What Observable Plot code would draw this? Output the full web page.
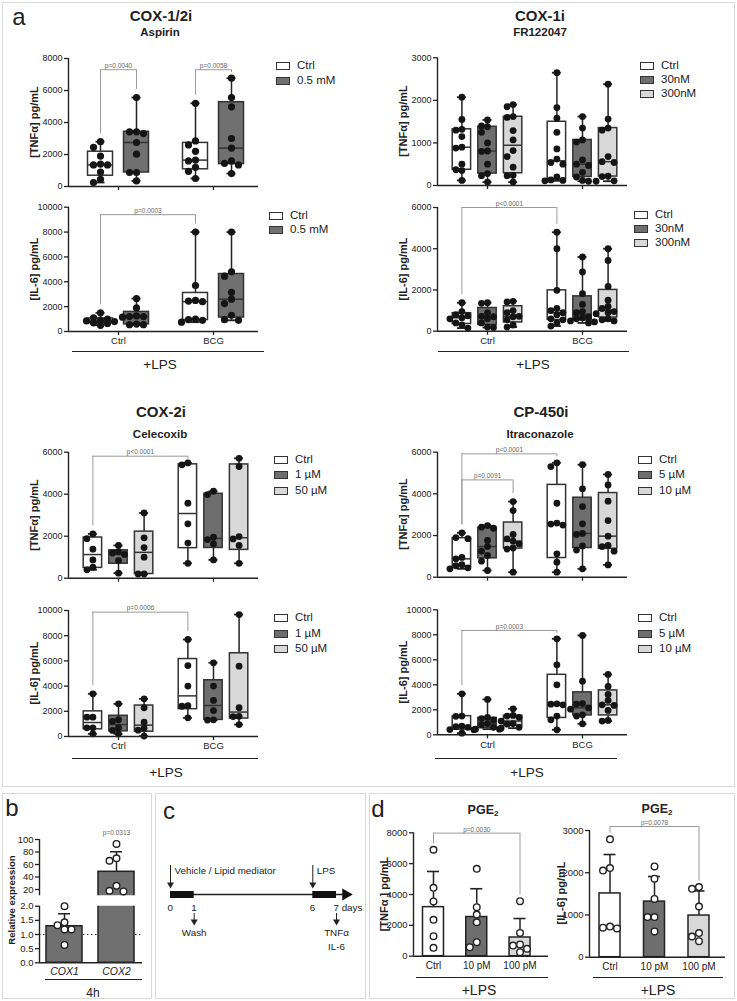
<!DOCTYPE html>
<html>
<head>
<meta charset="utf-8">
<script src="https://cdn.jsdelivr.net/npm/d3@7"></script>
<script src="https://cdn.jsdelivr.net/npm/@observablehq/plot@0.6"></script>
<style>
  html,body{margin:0;padding:0;background:#fff;}
  #fig{position:relative;width:737px;height:1001px;overflow:hidden;background:#fff;font-family:Arial,"Liberation Sans",Helvetica,sans-serif;color:#222;}
  #fig svg{position:absolute;overflow:visible;}
  .panel{position:absolute;border:1px solid #d9d9d9;box-sizing:border-box;}
  .t{position:absolute;white-space:nowrap;line-height:1;}
  .sw{position:absolute;width:14px;height:8px;border:1.3px solid #333;box-sizing:border-box;}
</style>
</head>
<body>
<div id="fig"></div>
<script>
// ================= DATA =================
const groups = ["Ctrl", "BCG"];

// COX-1/2i Aspirin
const aspirinTreatments = ["Ctrl", "0.5 mM"];
const aspirinTNF = [
  ["Ctrl", "Ctrl",   [2800, 2450, 1900, 1400, 1350, 1350, 900, 450, 250]],
  ["Ctrl", "0.5 mM", [5560, 3420, 3420, 3310, 2750, 2020, 875, 875, 350]],
  ["BCG",  "Ctrl",   [5200, 2850, 2600, 2200, 1650, 1600, 1200, 950, 500]],
  ["BCG",  "0.5 mM", [6770, 5560, 4980, 3000, 2400, 1600, 1450, 1350, 810]]
];
const aspirinIL6 = [
  ["Ctrl", "Ctrl",   [1500, 1100, 1000, 900, 850, 800, 700, 650, 500]],
  ["Ctrl", "0.5 mM", [2650, 1900, 1250, 1200, 1200, 1150, 600, 550, 550]],
  ["BCG",  "Ctrl",   [8000, 3700, 2500, 2450, 2400, 1000, 950, 900, 750]],
  ["BCG",  "0.5 mM", [8000, 4800, 4450, 3150, 2600, 2250, 1300, 950, 900]]
];
const aspirinTNFp = [
  {from: ["Ctrl", "Ctrl"], to: ["Ctrl", "0.5 mM"], level: 7300, p: "p=0.0040"},
  {from: ["BCG", "Ctrl"], to: ["BCG", "0.5 mM"], level: 7300, p: "p=0.0058"}
];
const aspirinIL6p = [{from: ["Ctrl", "Ctrl"], to: ["BCG", "Ctrl"], level: 9400, p: "p=0.0003"}];

// COX-1i FR122047
const frTreatments = ["Ctrl", "30nM", "300nM"];
const frTNF = [
  ["Ctrl", "Ctrl",  [2075, 1550, 1320, 1300, 1150, 900, 880, 500, 370, 350, 120]],
  ["Ctrl", "30nM",  [1540, 1400, 1380, 1250, 1000, 810, 800, 500, 280, 230, 80]],
  ["Ctrl", "300nM", [1900, 1850, 1620, 1600, 1290, 1070, 820, 680, 430, 240, 230, 80]],
  ["BCG",  "Ctrl",  [2650, 1830, 1580, 1250, 860, 620, 540, 500, 200, 130, 120, 110]],
  ["BCG",  "30nM",  [1620, 1350, 1070, 1020, 600, 500, 470, 310, 200, 120, 100]],
  ["BCG",  "300nM", [2380, 1560, 1350, 1300, 680, 560, 540, 220, 210, 110, 100]]
];
const frIL6 = [
  ["Ctrl", "Ctrl",  [1380, 950, 800, 750, 650, 600, 400, 300, 150]],
  ["Ctrl", "30nM",  [1380, 1350, 900, 720, 700, 600, 400, 200, 180]],
  ["Ctrl", "300nM", [1450, 1420, 1000, 900, 720, 700, 550, 300, 200]],
  ["BCG",  "Ctrl",  [4800, 4000, 1980, 1100, 1000, 900, 800, 600, 550, 400, 250]],
  ["BCG",  "30nM",  [3600, 2870, 1820, 1300, 950, 900, 700, 650, 600, 500, 450, 400]],
  ["BCG",  "300nM", [4000, 3430, 2170, 1500, 1200, 1100, 950, 900, 850, 600, 550, 500]]
];
const frIL6p = [{from: ["Ctrl", "Ctrl"], to: ["BCG", "Ctrl"], level: 6000, p: "p<0.0001"}];

// COX-2i Celecoxib
const celTreatments = ["Ctrl", "1 µM", "50 µM"];
const celTNF = [
  ["Ctrl", "Ctrl",  [2110, 1880, 1380, 870, 520, 400]],
  ["Ctrl", "1 µM",  [1560, 1250, 1200, 1130, 840, 240]],
  ["Ctrl", "50 µM", [3110, 1920, 1460, 1000, 200, 200]],
  ["BCG",  "Ctrl",  [5490, 5400, 3570, 2590, 1670, 710]],
  ["BCG",  "1 µM",  [4140, 3980, 1950, 1840, 1630, 870]],
  ["BCG",  "50 µM", [5710, 5320, 1980, 1870, 1560, 710]]
];
const celIL6 = [
  ["Ctrl", "Ctrl",  [3390, 1530, 1530, 690, 690, 210]],
  ["Ctrl", "1 µM",  [2590, 1330, 1200, 700, 480, 210]],
  ["Ctrl", "50 µM", [2990, 2280, 1140, 660, 500, 30]],
  ["BCG",  "Ctrl",  [7700, 5630, 4000, 2450, 2400, 1480]],
  ["BCG",  "1 µM",  [5850, 4000, 2860, 2060, 1320, 1300]],
  ["BCG",  "50 µM", [9680, 5580, 2280, 1600, 1580, 950]]
];
const celTNFp = [{from: ["Ctrl", "Ctrl"], to: ["BCG", "Ctrl"], level: 5810, p: "p<0.0001"}];
const celIL6p = [{from: ["Ctrl", "Ctrl"], to: ["BCG", "Ctrl"], level: 9870, p: "p=0.0006"}];

// CP-450i Itraconazole
const itraTreatments = ["Ctrl", "5 µM", "10 µM"];
const itraTNF = [
  ["Ctrl", "Ctrl",  [2130, 1900, 1850, 950, 880, 600, 550, 450, 400]],
  ["Ctrl", "5 µM",  [2480, 2400, 2350, 1760, 1470, 1250, 1040, 770, 320]],
  ["Ctrl", "10 µM", [3630, 3200, 2050, 1840, 1730, 1600, 1400, 1350, 240]],
  ["BCG",  "Ctrl",  [5490, 5310, 3550, 2600, 2550, 2500, 1120, 720, 240]],
  ["BCG",  "5 µM",  [5400, 4240, 3390, 2560, 2100, 2050, 1500, 1300, 400]],
  ["BCG",  "10 µM", [4930, 4430, 3650, 2720, 1970, 1520, 1470, 1250, 590]]
];
const itraIL6 = [
  ["Ctrl", "Ctrl",  [3280, 1500, 1480, 700, 650, 600, 420, 400, 130]],
  ["Ctrl", "5 µM",  [2830, 1400, 1300, 1200, 900, 800, 600, 450, 450]],
  ["Ctrl", "10 µM", [2080, 1550, 1500, 1400, 1100, 900, 850, 600, 530]],
  ["BCG",  "Ctrl",  [7680, 5600, 4000, 2480, 2450, 2400, 1500, 1200, 400]],
  ["BCG",  "5 µM",  [7950, 4290, 2500, 2450, 2150, 2050, 1600, 1500, 880]],
  ["BCG",  "10 µM", [4830, 3870, 3230, 2750, 2400, 2350, 1950, 1150, 1100]]
];
const itraTNFp = [
  {from: ["Ctrl", "Ctrl"], to: ["BCG", "Ctrl"], level: 5920, p: "p<0.0001"},
  {from: ["Ctrl", "Ctrl"], to: ["Ctrl", "10 µM"], level: 4670, p: "p=0.0091"}
];
const itraIL6p = [{from: ["Ctrl", "Ctrl"], to: ["BCG", "Ctrl"], level: 8350, p: "p=0.0003"}];

// Panel b: relative expression, 4h
const genes = ["COX1", "COX2"];
const cox1Expr = [2.0, 1.43, 1.33, 1.18, 1.18, 0.63];
const cox2Expr = [93, 70, 66, 26, 17, 18];
const bTicksUpper = [20, 40, 60, 80, 100];
const bTicksLower = [0, 0.5, 1.0, 1.5, 2.0];

// Panel c: protocol timeline
const timelineTicks = [[0, "0"], [1, "1"], [6, "6"], [7, "7 days"]];
const treatmentPhases = [[0, 1], [6, 7]];
const addEvents = [[0, "Vehicle / Lipid mediator"], [6, "LPS"]];
const readouts = [[1, ["Wash"]], [7, ["TNFα", "IL-6"]]];

// Panel d: PGE2
const pgeTreatments = ["Ctrl", "10 pM", "100 pM"];
const pgeTNF = [
  ["Ctrl",   [6900, 4430, 3550, 2360, 1300, 540]],
  ["10 pM",  [5665, 3180, 2700, 2200, 908, 584]],
  ["100 pM", [3570, 1510, 760, 690, 480, 260]]
];
const pgeIL6 = [
  ["Ctrl",   [2790, 2110, 2050, 726, 680, 700]],
  ["10 pM",  [2150, 1860, 1380, 950, 950, 610]],
  ["100 pM", [1660, 1620, 1200, 570, 490, 380]]
];
const pgeTNFp = [{from: "Ctrl", to: "100 pM", level: 7980, p: "p=0.0030"}];
const pgeIL6p = [{from: "Ctrl", to: "100 pM", level: 3095, p: "p=0.0078"}];

// ================= HELPERS =================
const FONT = 'Arial, "Liberation Sans", Helvetica, sans-serif';
const INK = "#222";
const fig = document.getElementById("fig");
const fills2 = ["#ffffff", "#707070"];
const fills3 = ["#ffffff", "#6e6e6e", "#d8d8d8"];
const plotStyle = {fontFamily: FONT, fontSize: "9px", color: INK, background: "transparent", overflow: "visible"};

function put(node, left, top) {
  node.style.position = "absolute";
  node.style.left = left + "px";
  node.style.top = top + "px";
  fig.appendChild(node);
  return node;
}
function text(x, y, html, o = {}) {
  const d = document.createElement("div");
  d.className = "t";
  d.innerHTML = html;
  const anchor = o.anchor ?? "middle";
  const tx = anchor === "middle" ? "-50%" : anchor === "end" ? "-100%" : "0";
  d.style.fontSize = (o.size ?? 11) + "px";
  d.style.fontWeight = o.weight ?? "normal";
  if (o.italic) d.style.fontStyle = "italic";
  d.style.color = o.color ?? INK;
  d.style.transform = `translate(${tx},-50%)` + (o.rotate ? ` rotate(${o.rotate}deg)` : "");
  return put(d, x, y);
}
function hline(x1, x2, y, w = 1.5) {
  const d = document.createElement("div");
  d.style.cssText = `width:${x2 - x1}px;height:0;border-top:${w}px solid ${INK};`;
  return put(d, x1, y - w / 2);
}
function panel(x, y, w, h) {
  const d = document.createElement("div");
  d.className = "panel";
  d.style.width = w + "px";
  d.style.height = h + "px";
  return put(d, x, y);
}
function legend(x, y, labels, fills, step) {
  labels.forEach((l, i) => {
    const s = document.createElement("div");
    s.className = "sw";
    s.style.background = fills[i];
    put(s, x, y + i * step - 4);
    text(x + 21, y + i * step, l, {anchor: "start", size: 11.5});
  });
}
function quartile(sorted, p) {
  const n = sorted.length, pos = (n + 1) * p;
  if (pos <= 1) return sorted[0];
  if (pos >= n) return sorted[n - 1];
  const lo = Math.floor(pos), f = pos - lo;
  return sorted[lo - 1] + f * (sorted[lo] - sorted[lo - 1]);
}
function summary(vals) {
  const s = [...vals].sort((a, b) => a - b);
  return {min: s[0], q1: quartile(s, 0.25), median: quartile(s, 0.5), q3: quartile(s, 0.75), max: s[s.length - 1]};
}
// horizontal spreading of overlapping dots (pixel offsets)
function spread(vals, yPx, stepPx, minD, maxK = 2) {
  const order = vals.map((_, i) => i).sort((a, b) => vals[b] - vals[a]);
  const placed = [], off = vals.map(() => 0);
  const ks = [0, -1, 1, -2, 2, -3, 3].filter(k => Math.abs(k) <= maxK);
  for (const i of order) {
    const py = yPx(vals[i]);
    let best = 0, bestD = -1;
    for (const k of ks) {
      const ox = k * stepPx;
      const d = placed.length ? Math.min(...placed.map(p => Math.hypot(p.x - ox, p.y - py))) : Infinity;
      if (d >= minD) { best = ox; break; }
      if (d > bestD) { bestD = d; best = ox; }
    }
    placed.push({x: best, y: py});
    off[i] = best;
  }
  return off;
}

// ================= BOX CHART (panel a) =================
function boxChart(o) {
  const {rows, treatments, fills} = o;
  const n = treatments.length, step = o.step;
  const c0 = (n - 1) / 2, G = 95 / step;
  const dom = [c0 - 50 / step, c0 + G + 45 / step];
  const pos = (g, t) => groups.indexOf(g) * G + treatments.indexOf(t);
  const plotH = o.H - o.mt - o.mb;
  const yPx = v => o.mt + (1 - v / o.yMax) * plotH;
  const yVal = px => o.yMax * (1 - (px - o.mt) / plotH);
  const stats = rows.map(([g, t, vals]) => ({g, t, x: pos(g, t), ...summary(vals)}));
  const pts = rows.flatMap(([g, t, vals]) => {
    const off = spread(vals, yPx, o.dotStep, o.minD, 2);
    return vals.map((v, i) => ({g, t, v, x: pos(g, t) + off[i] / step}));
  });
  const bw = o.boxHalf / step, cw = 4.5 / step;
  const maxOf = (g, t) => stats.find(s => s.g === g && s.t === t).max;
  const legEnd = (b, g, t) => yVal(Math.max(yPx(b.level) + 3, yPx(maxOf(g, t)) - 8));
  const br = (o.brackets || []).map(b => ({...b, xa: pos(...b.from), xb: pos(...b.to),
    ea: legEnd(b, ...b.from), eb: legEnd(b, ...b.to)}));
  const legs = br.flatMap(b => [{x: b.xa, y1: b.level, y2: b.ea}, {x: b.xb, y1: b.level, y2: b.eb}]);
  const svg = Plot.plot({
    width: 68 + 190, height: o.H,
    marginLeft: 68, marginRight: 0, marginTop: o.mt, marginBottom: o.mb,
    style: plotStyle,
    x: {domain: dom},
    y: {domain: [0, o.yMax]},
    color: {domain: treatments, range: fills},
    marks: [
      Plot.ruleX(legs, {x: "x", y1: "y1", y2: "y2", stroke: "#9a9a9a", strokeWidth: 1}),
      Plot.ruleY(br, {x1: "xa", x2: "xb", y: "level", stroke: "#9a9a9a", strokeWidth: 1}),
      Plot.text(br, {x: d => (d.xa + d.xb) / 2, y: "level", text: "p", dy: -4, fontSize: 6.5, fill: "#666"}),
      Plot.ruleX(stats, {x: "x", y1: "min", y2: "max", stroke: INK, strokeWidth: 1.5}),
      Plot.ruleY(stats, {x1: d => d.x - cw, x2: d => d.x + cw, y: "max", stroke: INK, strokeWidth: 1.8}),
      Plot.ruleY(stats, {x1: d => d.x - cw, x2: d => d.x + cw, y: "min", stroke: INK, strokeWidth: 1.8}),
      Plot.rect(stats, {x1: d => d.x - bw, x2: d => d.x + bw, y1: "q1", y2: "q3", fill: "t", stroke: "#333", strokeWidth: 1.5}),
      Plot.ruleY(stats, {x1: d => d.x - bw, x2: d => d.x + bw, y: "median", stroke: "#333", strokeWidth: 1.5}),
      Plot.dot(pts, {x: "x", y: "v", r: o.r, fill: "#151515", stroke: "none"}),
      Plot.ruleY([0], {stroke: INK, strokeWidth: 1.4}),
      Plot.ruleX([dom[0]], {stroke: INK, strokeWidth: 1.4}),
      Plot.axisY({ticks: o.ticks, tickSize: 4, tickPadding: 2, label: null, tickFormat: d => String(d), fontSize: 9, strokeWidth: 1.3}),
      Plot.axisX({ticks: groups.map((g, i) => c0 + i * G), tickSize: 4, tickPadding: 2, label: null, fontSize: 9.5, strokeWidth: 1.3,
        tickFormat: o.groupLabels ? (d => groups[Math.round((d - c0) / G)]) : (() => "")})
    ]
  });
  return put(svg, o.left, o.top);
}

// ================= BAR CHART (panel d) =================
function barChart(o) {
  const {rows, treatments, fills} = o;
  const n = treatments.length, step = o.step;
  const dom = [-o.lead / step, n - 1 + o.tail / step];
  const plotH = o.H - o.mt - o.mb;
  const yPx = v => o.mt + (1 - v / o.yMax) * plotH;
  const yVal = px => o.yMax * (1 - (px - o.mt) / plotH);
  const stats = rows.map(([t, v]) => {
    const mean = d3.mean(v), sd = d3.deviation(v);
    return {t, i: treatments.indexOf(t), mean, sd, top: Math.max(d3.max(v), mean + sd)};
  });
  const pts = rows.flatMap(([t, v]) => {
    const off = spread(v, yPx, 7, 6.5, 2), i = treatments.indexOf(t);
    return v.map((val, j) => ({t, v: val, x: i + off[j] / step}));
  });
  const half = 10.5 / step, cap = 6 / step;
  const topOf = t => stats.find(s => s.t === t).top;
  const end = (b, t) => yVal(Math.max(yPx(b.level) + 3, yPx(topOf(t)) - 6));
  const br = o.brackets.map(b => ({...b, xa: treatments.indexOf(b.from), xb: treatments.indexOf(b.to), ea: end(b, b.from), eb: end(b, b.to)}));
  const legs = br.flatMap(b => [{x: b.xa, y1: b.level, y2: b.ea}, {x: b.xb, y1: b.level, y2: b.eb}]);
  const svg = Plot.plot({
    width: o.width, height: o.H,
    marginLeft: o.ml, marginRight: 0, marginTop: o.mt, marginBottom: o.mb,
    style: plotStyle,
    x: {domain: dom},
    y: {domain: [0, o.yMax]},
    color: {domain: treatments, range: fills},
    marks: [
      Plot.ruleX(legs, {x: "x", y1: "y1", y2: "y2", stroke: "#9a9a9a", strokeWidth: 1}),
      Plot.ruleY(br, {x1: "xa", x2: "xb", y: "level", stroke: "#9a9a9a", strokeWidth: 1}),
      Plot.text(br, {x: d => (d.xa + d.xb) / 2, y: "level", text: "p", dy: -3.5, fontSize: 6.5, fill: "#666"}),
      Plot.ruleX(stats, {x: "i", y1: "mean", y2: d => d.mean + d.sd, stroke: INK, strokeWidth: 1.5}),
      Plot.ruleY(stats, {x1: d => d.i - cap, x2: d => d.i + cap, y: d => d.mean + d.sd, stroke: INK, strokeWidth: 1.6}),
      Plot.rect(stats, {x1: d => d.i - half, x2: d => d.i + half, y1: 0, y2: "mean", fill: "t", stroke: INK, strokeWidth: 1.5}),
      Plot.dot(pts, {x: "x", y: "v", r: 3.3, fill: "#fff", stroke: INK, strokeWidth: 1.4}),
      Plot.ruleY([0], {stroke: INK, strokeWidth: 1.4}),
      Plot.ruleX([dom[0]], {stroke: INK, strokeWidth: 1.4}),
      Plot.axisY({ticks: o.ticks, tickSize: 4, tickPadding: 2, label: null, tickFormat: d => String(d), fontSize: 9.5, strokeWidth: 1.3}),
      Plot.axisX({ticks: d3.range(n), tickSize: 0, tickPadding: 6, label: null, fontSize: 10, tickFormat: i => treatments[i]})
    ]
  });
  return put(svg, o.left, o.top);
}

// ================= PANEL FRAMES =================
panel(2, 2, 733, 785);
panel(2, 793, 150, 206);
panel(155, 793, 211, 206);
panel(369, 793, 366, 206);

// ================= PANEL a =================
text(19, 17, "a", {size: 24});
const cfg2 = {treatments: aspirinTreatments, fills: fills2, step: 36, boxHalf: 12.5, r: 3.6, dotStep: 7, minD: 6.5};
const cfg3 = {fills: fills3, step: 25.6, boxHalf: 9.2, r: 3.4, dotStep: 6, minD: 6};

// top-left: Aspirin
text(161, 15, "COX-1/2i", {size: 15, weight: "bold"});
text(160, 33, "Aspirin", {size: 11.5, weight: "bold"});
boxChart({...cfg2, rows: aspirinTNF, left: 0, top: 40, mt: 18, mb: 8, H: 154, yMax: 8000, ticks: d3.range(0, 8001, 2000), groupLabels: false, brackets: aspirinTNFp});
boxChart({...cfg2, rows: aspirinIL6, left: 0, top: 190, mt: 16.7, mb: 20, H: 161, yMax: 10000, ticks: d3.range(0, 10001, 2000), groupLabels: true, brackets: aspirinIL6p});
text(34, 122, "[TNFα] pg/mL", {size: 11, weight: "bold", rotate: -90});
text(34, 269, "[IL-6] pg/mL", {size: 11, weight: "bold", rotate: -90});
legend(276, 66.3, aspirinTreatments, fills2, 15);
legend(269, 215.7, aspirinTreatments, fills2, 14.5);
hline(72, 264, 352);
text(160, 365, "+LPS", {size: 13.5});

// top-right: FR122047
text(540, 15, "COX-1i", {size: 15, weight: "bold"});
text(540, 33, "FR122047", {size: 11.5, weight: "bold"});
boxChart({...cfg3, treatments: frTreatments, rows: frTNF, left: 369, top: 40, mt: 17.3, mb: 8, H: 153, yMax: 3000, ticks: d3.range(0, 3001, 1000), groupLabels: false, brackets: []});
boxChart({...cfg3, treatments: frTreatments, rows: frIL6, left: 369, top: 190, mt: 17, mb: 20, H: 160.7, yMax: 6000, ticks: d3.range(0, 6001, 2000), groupLabels: true, brackets: frIL6p});
text(403, 121, "[TNFα] pg/mL", {size: 11, weight: "bold", rotate: -90});
text(403, 269, "[IL-6] pg/mL", {size: 11, weight: "bold", rotate: -90});
legend(640, 65.7, frTreatments, fills3, 14.3);
legend(634, 215, frTreatments, fills3, 14.2);
hline(438, 629, 352);
text(533, 365, "+LPS", {size: 13.5});

// bottom-left: Celecoxib
text(161, 411, "COX-2i", {size: 15, weight: "bold"});
text(160, 435, "Celecoxib", {size: 11.5, weight: "bold"});
boxChart({...cfg3, treatments: celTreatments, rows: celTNF, left: 0, top: 430, mt: 21.7, mb: 8, H: 155.7, yMax: 6000, ticks: d3.range(0, 6001, 2000), groupLabels: false, brackets: celTNFp});
boxChart({...cfg3, treatments: celTreatments, rows: celIL6, left: 0, top: 595, mt: 15, mb: 20, H: 161, yMax: 10000, ticks: d3.range(0, 10001, 2000), groupLabels: true, brackets: celIL6p});
text(34, 515, "[TNFα] pg/mL", {size: 11, weight: "bold", rotate: -90});
text(34, 673, "[IL-6] pg/mL", {size: 11, weight: "bold", rotate: -90});
legend(274, 460, celTreatments, fills3, 15.3);
legend(274, 617.7, celTreatments, fills3, 15.8);
hline(72, 258, 759);
text(166, 773, "+LPS", {size: 13.5});

// bottom-right: Itraconazole
text(541, 411, "CP-450i", {size: 15, weight: "bold"});
text(540, 435, "Itraconazole", {size: 11.5, weight: "bold"});
boxChart({...cfg3, treatments: itraTreatments, rows: itraTNF, left: 369, top: 430, mt: 21.7, mb: 8, H: 154.7, yMax: 6000, ticks: d3.range(0, 6001, 2000), groupLabels: false, brackets: itraTNFp});
boxChart({...cfg3, treatments: itraTreatments, rows: itraIL6, left: 369, top: 595, mt: 14.3, mb: 20, H: 159.3, yMax: 10000, ticks: d3.range(0, 10001, 2000), groupLabels: true, brackets: itraIL6p});
text(403, 514, "[TNFα] pg/mL", {size: 11, weight: "bold", rotate: -90});
text(403, 672, "[IL-6] pg/mL", {size: 11, weight: "bold", rotate: -90});
legend(638, 460, itraTreatments, fills3, 15.3);
legend(638, 617.7, itraTreatments, fills3, 15.8);
hline(435, 617, 759);
text(527, 773, "+LPS", {size: 13.5});

// ================= PANEL b =================
text(12, 808, "b", {size: 24});
(function () {
  const series = [["COX1", cox1Expr], ["COX2", cox2Expr]];
  const stats = series.map(([g, v], i) => ({g, i, mean: d3.mean(v), sd: d3.deviation(v), max: d3.max(v)}));
  const step = 52, dom = [-25 / step, 1 + 26 / step], half = 18 / step, cap = 6 / step;
  const make = (o) => {
    const plotH = o.H - o.mt - o.mb;
    const yPx = v => o.mt + (1 - (v - o.domain[0]) / (o.domain[1] - o.domain[0])) * plotH;
    const pts = series.flatMap(([g, v], i) => {
      const keep = v.filter(o.keep);
      const off = spread(keep, yPx, 7, 6.5, 2);
      return keep.map((val, j) => ({g, v: val, x: i + off[j] / step}));
    });
    const marks = [
      ...(o.dotted ? [Plot.ruleY([1], {stroke: "#333", strokeWidth: 1.2, strokeDasharray: "1.5,2.5"})] : []),
      Plot.rect(stats, {x1: d => d.i - half, x2: d => d.i + half, y1: 0, y2: "mean", fill: "#707070", stroke: INK, strokeWidth: 1.5, clip: true}),
      Plot.ruleX(stats, {x: "i", y1: "mean", y2: d => d.mean + d.sd, stroke: INK, strokeWidth: 1.5, clip: true}),
      Plot.ruleY(stats, {x1: d => d.i - cap, x2: d => d.i + cap, y: d => d.mean + d.sd, stroke: INK, strokeWidth: 1.6, clip: true}),
      Plot.dot(pts, {x: "x", y: "v", r: 3.3, fill: "#fff", stroke: INK, strokeWidth: 1.4}),
      Plot.ruleX([dom[0]], {stroke: INK, strokeWidth: 1.4}),
      Plot.axisY({ticks: o.ticks, tickSize: 4, tickPadding: 2, label: null, tickFormat: o.fmt, fontSize: 9.5, strokeWidth: 1.3})
    ];
    if (o.xaxis) {
      marks.push(Plot.ruleY([0], {stroke: INK, strokeWidth: 1.4}));
      marks.push(Plot.axisX({ticks: [0, 1], tickSize: 0, tickPadding: 5, label: null, fontSize: 10.5, fontStyle: "italic", tickFormat: i => genes[i]}));
    }
    if (o.pvals) {
      marks.push(Plot.text(stats.filter(d => d.g === "COX2"), {x: "i", y: "max", text: () => o.pvals, dy: -10.5, fontSize: 6.5, fill: "#666"}));
    }
    const svg = Plot.plot({
      width: 142, height: o.H, marginLeft: 39, marginRight: 0, marginTop: o.mt, marginBottom: o.mb,
      style: plotStyle,
      x: {domain: dom, axis: o.xaxis ? undefined : null},
      y: {domain: o.domain},
      marks
    });
    return put(svg, 0, o.top);
  };
  make({top: 822, mt: 17, mb: 0, H: 73.25, domain: [10, 100], ticks: bTicksUpper, fmt: d => String(d), keep: v => v >= 10, pvals: "p=0.0313"});
  make({top: 898, mt: 7.7, mb: 16, H: 80.3, domain: [0, 2], ticks: bTicksLower, fmt: d3.format(".1f"), keep: v => v <= 2, dotted: true, xaxis: true});
})();
text(12, 900, "Relative expression", {size: 9.5, weight: "bold", rotate: -90});
hline(45, 142, 980);
text(93, 993, "4h", {size: 12});

// ================= PANEL c =================
text(169, 811, "c", {size: 24});
(function () {
  const readLabels = readouts.flatMap(([day, labels]) => labels.map((l, j) => ({day, l, j})));
  const svg = Plot.plot({
    width: 211, height: 206, margin: 0,
    style: {...plotStyle, fontSize: "9.5px"},
    x: {domain: [0, 7], range: [15, 181], axis: null},
    y: {domain: [-60, 45], range: [161, 56], axis: null},
    marks: [
      Plot.ruleY([0], {x1: 0, x2: 7.3, stroke: INK, strokeWidth: 1.3}),
      Plot.ruleY(treatmentPhases, {x1: d => d[0], x2: d => d[1], y: 0, stroke: "#111", strokeWidth: 7}),
      Plot.dot([7.39], {x: d => d, y: 0, symbol: "triangle", rotate: 90, r: 4.5, fill: "#111", stroke: "none"}),
      Plot.ruleX(addEvents, {x: d => d[0], y1: 29, y2: 10, stroke: INK, strokeWidth: 1}),
      Plot.dot(addEvents, {x: d => d[0], y: 10, symbol: "triangle", rotate: 180, r: 2.6, fill: INK, stroke: "none"}),
      Plot.text(addEvents, {x: d => d[0], y: 24, text: d => d[1], textAnchor: "start", dx: 4, fontSize: 9.8, fill: INK}),
      Plot.text(timelineTicks, {x: d => d[0], y: -13, text: d => d[1], textAnchor: "start", dx: -3, fontSize: 9.8, fill: INK}),
      Plot.ruleX(readouts, {x: d => d[0], y1: -19, y2: -27, stroke: INK, strokeWidth: 1}),
      Plot.dot(readouts, {x: d => d[0], y: -27, symbol: "triangle", rotate: 180, r: 2.6, fill: INK, stroke: "none"}),
      Plot.text(readLabels, {x: "day", y: d => -38 - 14.7 * d.j, text: "l", fontSize: 9.8, fill: INK})
    ]
  });
  put(svg, 155, 793);
})();

// ================= PANEL d =================
text(378, 809, "d", {size: 24});
text(483, 811, "PGE<sub style='font-size:8px;vertical-align:-2px'>2</sub>", {size: 12.5, weight: "bold"});
text(657, 810, "PGE<sub style='font-size:8px;vertical-align:-2px'>2</sub>", {size: 12.5, weight: "bold"});
barChart({rows: pgeTNF, treatments: pgeTreatments, fills: fills3, left: 370, top: 815, width: 178, ml: 43, mt: 17.3, mb: 16, H: 156.7,
  yMax: 8000, ticks: d3.range(0, 8001, 2000), step: 43.3, lead: 20, tail: 28.5, brackets: pgeTNFp});
barChart({rows: pgeIL6, treatments: pgeTreatments, fills: fills3, left: 550, top: 815, width: 175, ml: 39, mt: 15, mb: 16, H: 157.7,
  yMax: 3000, ticks: d3.range(0, 3001, 1000), step: 44.5, lead: 20.5, tail: 26.5, brackets: pgeIL6p});
text(384, 894, "[TNFα ] pg/mL", {size: 11, weight: "bold", rotate: -90});
text(561, 893, "[IL-6] pg/mL", {size: 11, weight: "bold", rotate: -90});
hline(416, 548, 978);
hline(593, 723, 978);
text(479, 990, "+LPS", {size: 14});
text(658, 990, "+LPS", {size: 14});
</script>
</body>
</html>
